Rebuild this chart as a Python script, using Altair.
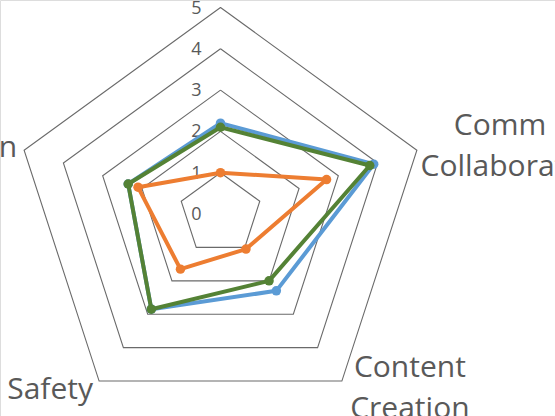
import altair as alt
import pandas as pd

# ---- data ----
categories = ["Problem Solving", "Comm &\nCollaboration", "Content\nCreation", "Safety", "Information"]
tick_labels = ["0", "1", "2", "3", "4", "5"]
grid_levels = [1, 2, 3, 4, 5]
series_names = ["Series 1", "Series 3", "Series 2"]
series_colors = ["#5B9BD5", "#548235", "#ED7D31"]
series_1 = [2.2, 3.9, 2.3, 2.85, 2.35]
series_3 = [2.1, 3.8, 2.0, 2.85, 2.35]
series_2 = [1.0, 2.7, 1.05, 1.65, 2.1]
series_values = [series_1, series_3, series_2]

# ---- layout constants ----
W, H = 555, 416
CX, CY, UNIT = 220.5, 214.0, 41.3
xdom = [-CX / UNIT, (W - CX) / UNIT]
ydom = [-(H - CY) / UNIT, CY / UNIT]
N = len(categories)

xs = alt.Scale(domain=xdom, nice=False, zero=False)
ys = alt.Scale(domain=ydom, nice=False, zero=False)


def polar_xy(ch):
    return ch.transform_calculate(
        angle=f"datum.idx * 2 * PI / {N}"
    ).transform_calculate(
        px="datum.r * sin(datum.angle)", py="datum.r * cos(datum.angle)"
    )


X = alt.X("px:Q", scale=xs, axis=None)
Y = alt.Y("py:Q", scale=ys, axis=None)

# grid pentagons
grid_rows = []
for lv in grid_levels:
    for i in range(N + 1):
        grid_rows.append({"level": lv, "idx": i % N, "ord": i, "r": lv})
grid_df = pd.DataFrame(grid_rows)
grid = polar_xy(alt.Chart(grid_df)).mark_line(
    color="#6a6a6a", strokeWidth=1.1
).encode(x=X, y=Y, detail="level:N", order="ord:Q")

layers = [grid]

# tick labels on the top axis
tick_df = pd.DataFrame({"label": tick_labels, "r": [float(t) for t in tick_labels], "idx": [0] * len(tick_labels)})
ticks = polar_xy(alt.Chart(tick_df)).mark_text(
    align="right", baseline="middle", dx=-19, dy=1, fontSize=18, font="Open Sans", color="#595959"
).encode(x=X, y=Y, text="label:N")
layers.append(ticks)

# series
for name, col, vals in zip(series_names, series_colors, series_values):
    rows = [{"series": name, "idx": i % N, "ord": i, "r": vals[i % N]} for i in range(N + 1)]
    df = pd.DataFrame(rows)
    base = polar_xy(alt.Chart(df))
    line = base.mark_line(color=col, strokeWidth=4, strokeJoin="round").encode(x=X, y=Y, order="ord:Q")
    pts = base.transform_filter("datum.ord < %d" % N).mark_circle(
        color=col, size=90, opacity=1
    ).encode(x=X, y=Y)
    layers += [line, pts]

# category labels (anchored at outer vertex, offset in pixels);
# the top label lies above the visible frame in the reference, so it is not drawn
label_style = {
    1: dict(align="center", baseline="middle", dx=98, dy=-24),
    2: dict(align="center", baseline="middle", dx=68, dy=-13),
    3: dict(align="center", baseline="middle", dx=-49, dy=9),
    4: dict(align="right", baseline="alphabetic", dx=-7, dy=7),
}
for i, st in label_style.items():
    df = pd.DataFrame({"label": [categories[i]], "idx": [i], "r": [grid_levels[-1]]})
    t = polar_xy(alt.Chart(df)).mark_text(
        font="Open Sans", fontSize=30, color="#595959", lineBreak="\n", lineHeight=41, **st
    ).encode(x=X, y=Y, text="label:N")
    layers.append(t)

chart = alt.layer(*layers).properties(
    width=W, height=H, autosize=alt.AutoSizeParams(type="none"), padding=0
).configure_view(stroke=None).configure(background="white")

chart.save("out.html", embed_options={"renderer": "svg", "actions": False})
